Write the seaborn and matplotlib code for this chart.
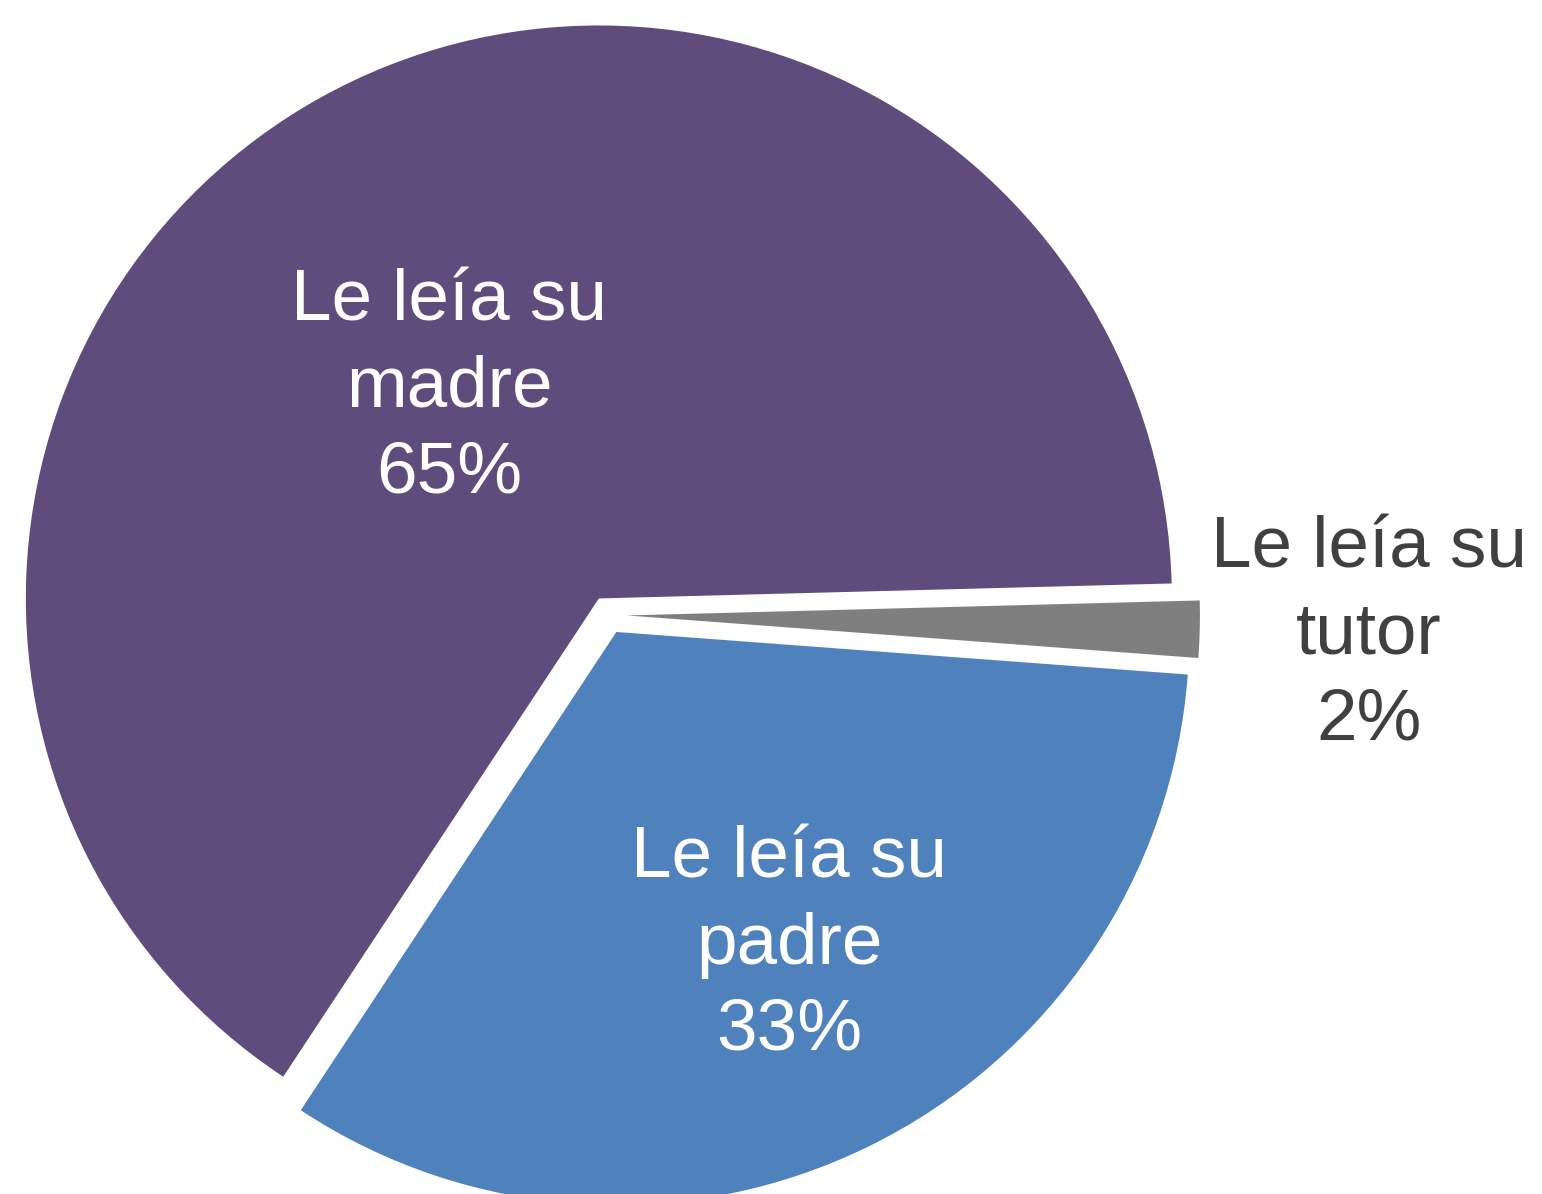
import matplotlib
matplotlib.use('agg')
import matplotlib.pyplot as plt
import seaborn as sns

categories = ['Le leía su\nmadre', 'Le leía su\npadre', 'Le leía su\ntutor']
shares = [65.3, 33.1, 1.6]
colors = ['#604C7C', '#4F81BD', '#7F7F7F']
label_colors = ['white', 'white', '#404040']
label_xy = [(-0.2775, 0.396), (0.316, -0.576), (1.328, -0.035)]

sns.set_theme(style="white")
plt.rcParams['font.family'] = ['Liberation Sans', 'DejaVu Sans']

fig = plt.figure(figsize=(15.42, 11.94), dpi=100)
ax = fig.add_axes([0, 0, 1, 1])

wedges, _ = ax.pie(shares, colors=colors, startangle=1.5, counterclock=True,
                   explode=[0.033] * len(shares), radius=1.0,
                   wedgeprops=dict(linewidth=0))

for cat, val, col, (x, y) in zip(categories, shares, label_colors, label_xy):
    ax.text(x, y, f"{cat}\n{val:.0f}%", ha='center', va='center',
            color=col, fontsize=52.5, linespacing=1.37)

ax.set_xlim(-1.0611, 1.6300)
ax.set_ylim(-1.0105, 1.0733)
ax.set_aspect('equal')
ax.axis('off')

plt.savefig('out.png', dpi=100)
